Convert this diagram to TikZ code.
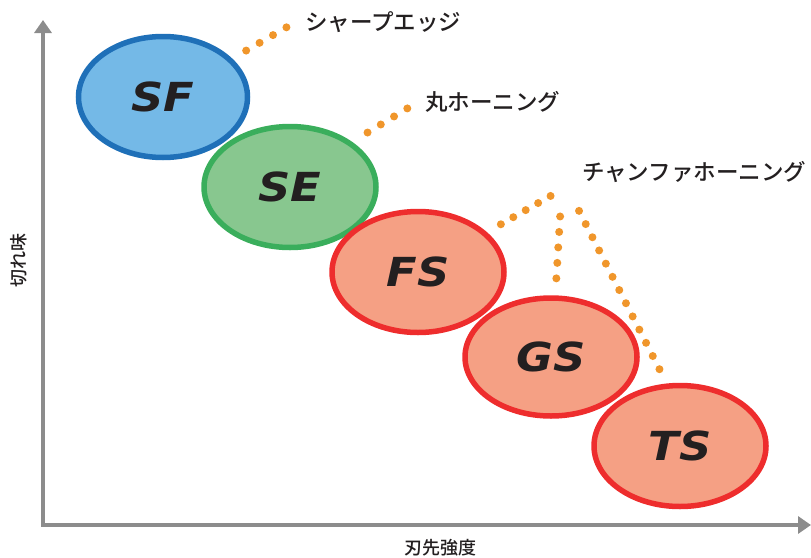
\documentclass[tikz,border=0pt]{standalone}
\usepackage{fontspec}
\usepackage{graphicx}
\usetikzlibrary{shapes.geometric,positioning,arrows.meta}
\newfontfamily\jpfont{Noto Sans CJK JP}[UprightFont=* Medium]
\newfontfamily\gradefont{DejaVu Sans}
\definecolor{ink}{HTML}{231F20}
\definecolor{axisgray}{HTML}{8C8C8C}
\definecolor{dotorange}{HTML}{F0962B}
\definecolor{sfline}{HTML}{1F70B8}
\definecolor{sffill}{HTML}{74B9E7}
\definecolor{seline}{HTML}{3AAE5C}
\definecolor{sefill}{HTML}{88C78F}
\definecolor{redline}{HTML}{EE2D2D}
\definecolor{redfill}{HTML}{F5A084}

\begin{document}
\begin{tikzpicture}[x=1pt,y=-1pt,on grid,
  grade/.style={ellipse,line width=5.5pt,minimum width=172pt,minimum height=121pt,
    inner sep=0pt,text=ink,font=\gradefont\bfseries\itshape\fontsize{40}{40}\selectfont},
  blueball/.style={grade,draw=sfline,fill=sffill},
  greenball/.style={grade,draw=seline,fill=sefill},
  redball/.style={grade,draw=redline,fill=redfill},
  jlabel/.style={inner sep=0pt,anchor=west,text=ink,font=\jpfont\fontsize{22.5}{22.5}\selectfont},
  axislabel/.style={inner sep=0pt,text=ink,font=\jpfont\fontsize{18}{18}\selectfont},
  axis/.style={draw=axisgray,line width=3.5pt,{Triangle[length=13pt,width=17pt]}-{Triangle[length=13pt,width=17pt]}},
  dots/.style={draw=dotorange,line width=8pt,line cap=round,dash pattern=on 0pt off 15.5pt,shorten <=16pt}]
  \useasboundingbox (0,0) rectangle (811,557);

  % axes
  \coordinate (ytop) at (43,20);
  \coordinate (xend) at (811,525);
  \draw[axis] (ytop) |- (xend);
  \node[axislabel,rotate=90] (sharpness) at (19,260) {切れ味};
  \node[axislabel] (strength) at (440,548) {刃先強度};

  % grades
  \node[blueball,minimum width=169pt] (sf) at (163,97) {\scalebox{1.12}[1]{SF}};
  \node[greenball] (se) [below right=90pt and 127pt of sf] {\scalebox{1.12}[1]{SE}};
  \node[redball] (fs) [below right=85pt and 128pt of se] {\scalebox{1.12}[1]{FS}};
  \node[redball,minimum height=118pt] (gs) [below right=85pt and 133pt of fs] {\scalebox{1.12}[1]{GS}};
  \node[redball] (ts) [below right=89pt and 129pt of gs] {\scalebox{1.12}[1]{TS}};

  % edge types
  \node[jlabel] (sharp) at (305,22) {シャープエッジ};
  \node[jlabel] (round) at (425,102) {丸ホーニング};
  \node[jlabel] (chamfer) at (582,172) {チャンファホーニング};
  \coordinate (sharp-end) at (287,27);
  \coordinate (round-end) at (408,108);
  \coordinate (cham-l) at (561,190);
  \coordinate (cham-m) at (561,202);
  \coordinate (cham-r) at (573,199);

  \draw[dots] (sf.29) -- (sharp-end);
  \draw[dots,shorten <=18pt] (se.36) -- (round-end);
  \draw[dots,dash pattern=on 0pt off 14.3pt] (fs.30) -- (cham-l);
  \draw[dots,shorten <=17pt] (gs.86) -- (cham-m);
  \draw[dots,dash pattern=on 0pt off 14.8pt] (ts.102) -- (cham-r);
\end{tikzpicture}
\end{document}
